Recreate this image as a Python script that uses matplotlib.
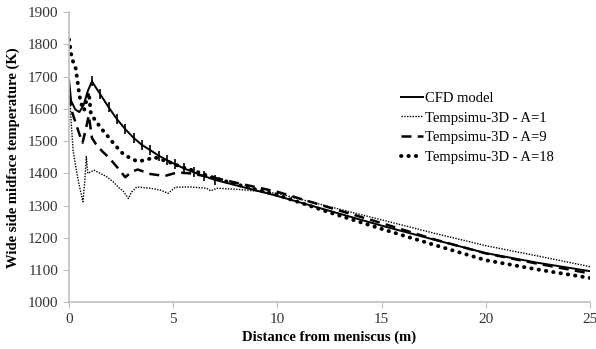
import numpy
import matplotlib
matplotlib.use('Agg')
import matplotlib.pyplot as plt

# CFD model
x_cfd = [0, 0.1, 0.3, 0.5, 0.7, 0.9, 1.1, 1.5, 1.9, 2.3, 2.7, 3.1, 3.5, 3.9, 4.3, 4.7,
         5.1, 5.5, 6.0, 6.5, 7.0, 8.5, 10, 12.5, 15, 17.5, 20, 22.5, 25]
T_cfd = [1690, 1625, 1598, 1590, 1612, 1655, 1685, 1645, 1605, 1568, 1537, 1510, 1488, 1472, 1455, 1441,
         1428, 1416, 1403, 1391, 1380, 1355, 1330, 1284, 1238, 1195, 1153, 1123, 1097]

# Tempsimu-3D A=1
x_a1 = [0, 0.1, 0.2, 0.35, 0.5, 0.67, 0.76, 0.83, 0.9, 1.2, 1.5, 1.8, 2.1, 2.4, 2.6, 2.85,
        3.0, 3.25, 3.9, 4.4, 4.75, 5.1, 5.8, 6.6, 6.8, 7.1, 8.2, 9, 10, 12.5, 15, 17.5, 20, 22.5, 25]
T_a1 = [1680, 1560, 1470, 1410, 1360, 1312, 1380, 1452, 1400, 1410, 1400, 1390, 1375, 1355, 1345, 1322,
        1342, 1358, 1354, 1348, 1338, 1357, 1358, 1354, 1346, 1354, 1350, 1345, 1338, 1297, 1256, 1215, 1176, 1144, 1111]

# Tempsimu-3D A=9
x_a9 = [0, 0.15, 0.3, 0.48, 0.65, 0.8, 0.95, 1.1, 1.3, 1.6, 1.9, 2.3, 2.7, 3.0, 3.3, 3.9,
        4.6, 5.2, 5.8, 7, 8.5, 10, 12.5, 15, 17.5, 20, 22.5, 25]
T_a9 = [1640, 1590, 1560, 1525, 1495, 1535, 1580, 1510, 1490, 1468, 1450, 1420, 1388, 1405, 1412, 1398,
        1392, 1403, 1400, 1386, 1364, 1343, 1294, 1246, 1196, 1152, 1120, 1090]

# Tempsimu-3D A=18
x_a18 = [0, 0.1, 0.2, 0.32, 0.4, 0.48, 0.56, 0.72, 0.85, 0.95, 1.05, 1.25, 1.6, 1.9, 2.2, 2.6,
         3.0, 3.3, 3.7, 4.1, 4.8, 5.4, 6, 7, 8.5, 10, 12.5, 15, 17.5, 20, 22.5, 25]
T_a18 = [1815, 1770, 1745, 1725, 1690, 1650, 1620, 1595, 1630, 1650, 1585, 1565, 1535, 1512, 1488, 1460,
         1445, 1437, 1442, 1450, 1435, 1420, 1408, 1385, 1358, 1333, 1279, 1228, 1179, 1131, 1102, 1076]

labels = ['CFD model', 'Tempsimu-3D - A=1', 'Tempsimu-3D - A=9', 'Tempsimu-3D - A=18']
x_ticks = [0, 5, 10, 15, 20, 25]
y_ticks = numpy.arange(1000, 1901, 100)

plt.rcParams['font.family'] = ['Liberation Serif', 'DejaVu Serif']

fig = plt.figure(figsize=(5.96, 3.49), dpi=100)
ax = fig.add_axes([0.1158, 0.1333, 0.874, 0.8323])

# tick marks along the CFD curve between 1 and 7 m
x_cfd_arr = numpy.array(x_cfd)
tick_idx = [int(i) for i in numpy.where((x_cfd_arr > 1.0) & (x_cfd_arr < 7.1))[0]]
ax.plot(x_cfd, T_cfd, '-', color='black', lw=1.4, label=labels[0])
ax.plot(x_cfd, T_cfd, linestyle='none', marker='|', markersize=7, markeredgewidth=1.2,
        color='black', markevery=tick_idx)
ax.plot(x_a1, T_a1, color='black', lw=1.0, linestyle=(0, (1, 1)), label=labels[1])
ax.plot(x_a9, T_a9, color='black', lw=1.8, linestyle=(0, (4, 2.5)), label=labels[2])
ax.plot(x_a18, T_a18, color='black', lw=2.8, linestyle=(0, (0.1, 1.8)),
        dash_capstyle='round', label=labels[3])

ax.set_xlim(0, 25)
ax.set_ylim(1000, 1900)
ax.set_xticks(x_ticks)
ax.set_yticks(y_ticks)
ax.tick_params(axis='both', direction='out', length=4, color='#bfbfbf',
               labelsize=11, labelcolor='#333333')
for side in ['top', 'right']:
    ax.spines[side].set_visible(False)
for side in ['left', 'bottom']:
    ax.spines[side].set_color('#bfbfbf')
    ax.spines[side].set_linewidth(1.2)

ax.set_xlabel('Distance from meniscus (m)', fontsize=10.5, fontweight='bold', labelpad=3)
ax.set_ylabel('Wide side midface temperature (K)', fontsize=10.5, fontweight='bold', labelpad=6)

ax.legend(loc='upper left', bbox_to_anchor=(0.627, 0.746), frameon=False, fontsize=10.5,
          handlelength=1.45, handletextpad=0.15, labelspacing=0.45, borderaxespad=0)

plt.savefig('out.png', dpi=100)
